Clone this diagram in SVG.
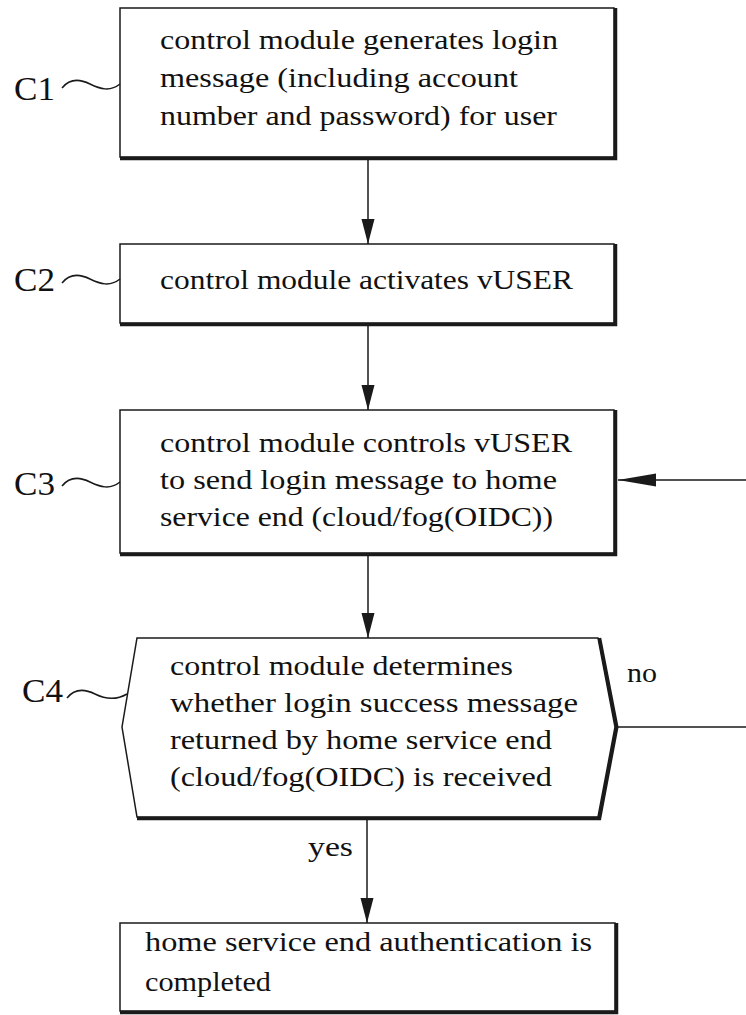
<svg xmlns="http://www.w3.org/2000/svg" width="746" height="1015" viewBox="0 0 746 1015">
<style>
.bg{fill:#ffffff}
.box{fill:#ffffff;stroke:#1a1a1a;stroke-width:1.5}
.shadow{fill:none;stroke:#1a1a1a;stroke-width:3.5;stroke-linejoin:miter}
.txt{font-family:"Liberation Serif","Times New Roman",serif;font-size:28px;fill:#111111}
.ref{font-family:"Liberation Serif","Times New Roman",serif;font-size:33px;fill:#111111}
.lead{fill:none;stroke:#1a1a1a;stroke-width:1.5}
.conn{fill:none;stroke:#1a1a1a;stroke-width:1.5}
</style>
<defs>
<marker id="arrV" markerUnits="userSpaceOnUse" markerWidth="25" markerHeight="14" refX="25" refY="7" orient="auto">
<path d="M0,0.5 L25,7 L0,13.5 z" fill="#1a1a1a"/>
</marker>
<marker id="arrH" markerUnits="userSpaceOnUse" markerWidth="38" markerHeight="14" refX="38" refY="7" orient="auto">
<path d="M0,0.5 L38,7 L0,13.5 z" fill="#1a1a1a"/>
</marker>
</defs>
<rect class="bg" x="0" y="0" width="746" height="1015"/>

<g id="connectors">
<path class="conn" d="M368,160 V244" marker-end="url(#arrV)"/>
<path class="conn" d="M368,326 V410" marker-end="url(#arrV)"/>
<path class="conn" d="M368,556 V638" marker-end="url(#arrV)"/>
<path class="conn" d="M367,819 V923" marker-end="url(#arrV)"/>
<path class="conn" d="M616,727 H770 V480 H618" marker-end="url(#arrH)"/>
<text class="txt" x="308" y="856" textLength="45" lengthAdjust="spacingAndGlyphs">yes</text>
<text class="txt" x="627" y="682" textLength="30" lengthAdjust="spacingAndGlyphs">no</text>
</g>

<g id="C1">
<rect class="box" x="120" y="8" width="494" height="149"/>
<path class="shadow" d="M615.5,8 V158.5 H120"/>
<text class="txt" x="160" y="49" textLength="398" lengthAdjust="spacingAndGlyphs">control module generates login</text>
<text class="txt" x="160" y="87" textLength="358" lengthAdjust="spacingAndGlyphs">message (including account</text>
<text class="txt" x="160" y="125" textLength="397" lengthAdjust="spacingAndGlyphs">number and password) for user</text>
<text class="ref" x="14" y="100" textLength="41" lengthAdjust="spacingAndGlyphs">C1</text>
<path class="lead" d="M62,88 C70,78 80,79 90,84 S110,92 120,84"/>
</g>

<g id="C2">
<rect class="box" x="120" y="244" width="494" height="79"/>
<path class="shadow" d="M615.5,244 V324.5 H120"/>
<text class="txt" x="160" y="289" textLength="413" lengthAdjust="spacingAndGlyphs">control module activates vUSER</text>
<text class="ref" x="14" y="291" textLength="41" lengthAdjust="spacingAndGlyphs">C2</text>
<path class="lead" d="M62,283 C70,273 80,274 90,279 S110,287 120,279"/>
</g>

<g id="C3">
<rect class="box" x="120" y="410" width="494" height="143"/>
<path class="shadow" d="M615.5,410 V554.5 H120"/>
<text class="txt" x="160" y="452" textLength="412" lengthAdjust="spacingAndGlyphs">control module controls vUSER</text>
<text class="txt" x="160" y="489" textLength="397" lengthAdjust="spacingAndGlyphs">to send login message to home</text>
<text class="txt" x="160" y="526" textLength="393" lengthAdjust="spacingAndGlyphs">service end (cloud/fog(OIDC))</text>
<text class="ref" x="14" y="495" textLength="41" lengthAdjust="spacingAndGlyphs">C3</text>
<path class="lead" d="M62,486 C70,476 80,477 90,482 S110,490 120,482"/>
</g>

<g id="C4">
<polygon class="box" points="137,638 598,638 615,727 598,817 137,817 122,727"/>
<path class="shadow" d="M599.5,638 L616.8,727 L599.5,818.5 H137"/>
<text class="txt" x="170" y="675" textLength="343" lengthAdjust="spacingAndGlyphs">control module determines</text>
<text class="txt" x="170" y="712" textLength="408" lengthAdjust="spacingAndGlyphs">whether login success message</text>
<text class="txt" x="170" y="749" textLength="382" lengthAdjust="spacingAndGlyphs">returned by home service end</text>
<text class="txt" x="170" y="786" textLength="382" lengthAdjust="spacingAndGlyphs">(cloud/fog(OIDC) is received</text>
<text class="ref" x="22" y="702" textLength="41" lengthAdjust="spacingAndGlyphs">C4</text>
<path class="lead" d="M67,698 C75,688 85,689 95,694 S115,701 127,694"/>
</g>

<g id="C5">
<rect class="box" x="120" y="923" width="495" height="88"/>
<path class="shadow" d="M616.5,923 V1012.5 H120"/>
<text class="txt" x="145" y="951" textLength="447" lengthAdjust="spacingAndGlyphs">home service end authentication is</text>
<text class="txt" x="145" y="991" textLength="126" lengthAdjust="spacingAndGlyphs">completed</text>
</g>
</svg>
